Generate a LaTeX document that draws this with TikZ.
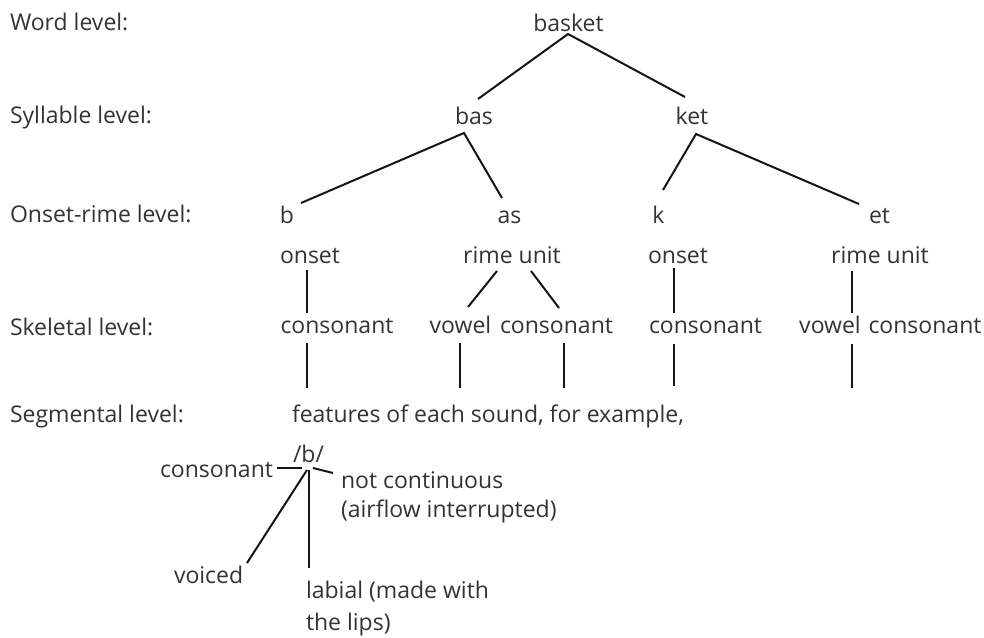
\documentclass[tikz,border=0pt]{standalone}
\usepackage{fontspec}
\setmainfont{Open Sans}
\definecolor{txt}{HTML}{333333}
\definecolor{ln}{HTML}{151515}
\begin{document}
\begin{tikzpicture}[x=1pt,y=-1pt,
  lbl/.style={inner sep=0pt,outer sep=0pt,text=txt,font=\fontsize{23}{28}\selectfont},
  cw/.style={lbl,anchor=base},
  lw/.style={lbl,anchor=base west},
  le/.style={lbl,anchor=base east},
  edge/.style={draw=ln,line width=2pt}]
\useasboundingbox (0,0) rectangle (984,637);
% level labels
\node[lw] (Lword) at (10,30) {Word level:};
\node[lw] (Lsyl) at (10,123) {Syllable level:};
\node[lw] (Lons) at (10,222) {Onset-rime level:};
\node[lw] (Lskel) at (10,335) {Skeletal level:};
\node[lw] (Lseg) at (10,422) {Segmental level:};
% tree nodes
\node[cw] (basket) at (568.5,31) {basket};
\node[cw] (bas) at (474,124) {bas};
\node[cw] (ket) at (692,124) {ket};
\node[cw] (b) at (287,223) {b};
\node[cw] (as) at (509.5,223) {as};
\node[cw] (k) at (658.5,223) {k};
\node[cw] (et) at (879.5,223) {et};
\node[cw] (onsA) at (310,263) {onset};
\node[cw] (rimeA) at (512,263) {rime unit};
\node[cw] (onsB) at (678,263) {onset};
\node[cw] (rimeB) at (880,263) {rime unit};
\node[cw] (consA) at (337,333) {consonant};
\node[cw] (vowA) at (460.5,333) {vowel};
\node[cw] (consB) at (556.5,333) {consonant};
\node[cw] (consC) at (705.5,333) {consonant};
\node[cw] (vowB) at (830,333) {vowel};
\node[cw] (consD) at (925,333) {consonant};
\node[lw] (feat) at (292,422) {features of each sound, for example,};
\node[cw] (bb) at (308.5,462) {/b/};
\node[le] (fcons) at (273,477) {consonant};
\node[lw] (fnc1) at (341,488) {not continuous};
\node[lw] (fnc2) at (341,517) {(airflow interrupted)};
\node[lw] (fvoi) at (174,583) {voiced};
\node[lw] (flab1) at (306,598) {labial (made with};
\node[lw] (flab2) at (306,630) {the lips)};
% connector end points
\coordinate (basket-d) at (568,34);
\coordinate (bas-u) at (478,99);
\coordinate (ket-u) at (685,97);
\coordinate (bas-d) at (464,133);
\coordinate (b-u) at (301,203);
\coordinate (as-u) at (502,198);
\coordinate (ket-d) at (696,134);
\coordinate (k-u) at (663,190);
\coordinate (et-u) at (859,204);
\coordinate (onsA-d) at (307,270);
\coordinate (consA-u) at (307,313);
\coordinate (rimeA-dl) at (497,271);
\coordinate (vowA-u) at (468,307);
\coordinate (rimeA-dr) at (531,271);
\coordinate (consB-u) at (559,308);
\coordinate (onsB-d) at (674,268);
\coordinate (consC-u) at (674,313);
\coordinate (rimeB-d) at (852,271);
\coordinate (vowB-u) at (852,313);
\coordinate (consA-d) at (307,343);
\coordinate (consA-e) at (307,388);
\coordinate (vowA-d) at (460,343);
\coordinate (vowA-e) at (460,388);
\coordinate (consB-d) at (564,343);
\coordinate (consB-e) at (564,388);
\coordinate (consC-d) at (674,344);
\coordinate (consC-e) at (674,386);
\coordinate (vowB-d) at (852,344);
\coordinate (vowB-e) at (852,388);
\coordinate (hub) at (307,470);
\coordinate (fcons-r) at (277,468);
\coordinate (hub-l) at (302,468);
\coordinate (hub-r) at (313,468);
\coordinate (fnc-l) at (333,473);
\coordinate (fvoi-u) at (247,563);
\coordinate (hub-b) at (309,470);
\coordinate (flab-u) at (309,568);
% connectors
\draw[edge] (bas-u) -- (basket-d) -- (ket-u);
\draw[edge] (b-u) -- (bas-d) -- (as-u);
\draw[edge] (k-u) -- (ket-d) -- (et-u);
\draw[edge] (onsA-d) -- (consA-u);
\draw[edge] (rimeA-dl) -- (vowA-u);
\draw[edge] (rimeA-dr) -- (consB-u);
\draw[edge] (onsB-d) -- (consC-u);
\draw[edge] (rimeB-d) -- (vowB-u);
\draw[edge] (consA-d) -- (consA-e);
\draw[edge] (vowA-d) -- (vowA-e);
\draw[edge] (consB-d) -- (consB-e);
\draw[edge] (consC-d) -- (consC-e);
\draw[edge] (vowB-d) -- (vowB-e);
\draw[edge] (fcons-r) -- (hub-l);
\draw[edge] (hub-r) -- (fnc-l);
\draw[edge] (hub) -- (fvoi-u);
\draw[edge] (hub-b) -- (flab-u);
\end{tikzpicture}
\end{document}
